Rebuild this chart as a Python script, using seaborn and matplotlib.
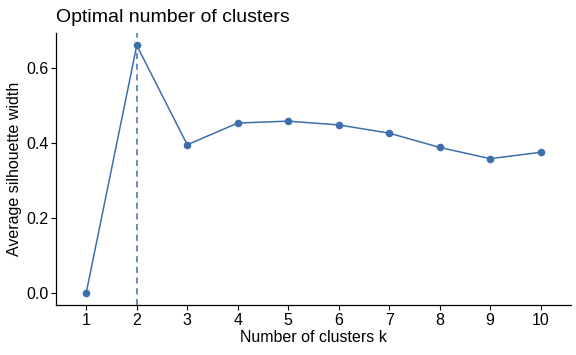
import numpy as np
import pandas as pd
import seaborn as sns
import matplotlib
matplotlib.use("Agg")
import matplotlib.pyplot as plt

# datos
k = [1, 2, 3, 4, 5, 6, 7, 8, 9, 10]
silhouette = [0.0, 0.659, 0.394, 0.452, 0.457, 0.447, 0.425, 0.387, 0.357, 0.374]
k_optimo = 2

df = pd.DataFrame({"k": k, "sil": silhouette})

sns.set_style("ticks")
plt.rcParams["font.family"] = ["Liberation Sans", "DejaVu Sans"]
plt.rcParams["text.color"] = "black"
plt.rcParams["axes.labelcolor"] = "black"

color = "#3d6fab"
fig = plt.figure(figsize=(5.76, 3.55), dpi=100)
ax = fig.add_axes([0.0972, 0.141, 0.894, 0.766])

sns.lineplot(data=df, x="k", y="sil", color=color, linewidth=1.1, ax=ax)
sns.scatterplot(data=df, x="k", y="sil", color=color, s=30, edgecolor=color, linewidth=0, ax=ax, zorder=3)
ax.axvline(k_optimo, color=color, linestyle=(0, (4, 3)), linewidth=1.1)

ax.set_xlim(0.4, 10.6)
ax.set_ylim(-0.033, 0.692)
ax.set_xticks(k)
ax.set_yticks([0.0, 0.2, 0.4, 0.6])
ax.set_yticklabels(["0.0", "0.2", "0.4", "0.6"])
ax.tick_params(axis="both", labelsize=11.5, colors="black", length=3.5, width=0.8, pad=2)
for s in ["left", "bottom"]:
    ax.spines[s].set_color("black")
    ax.spines[s].set_linewidth(0.9)
sns.despine(ax=ax)

ax.set_xlabel("Number of clusters k", fontsize=11.5, labelpad=2, color="black")
ax.set_ylabel("Average silhouette width", fontsize=11.5, labelpad=3, color="black")
ax.set_title("Optimal number of clusters", fontsize=14, loc="left", x=0.0, pad=8, color="black")

fig.savefig("out.png", dpi=100)
